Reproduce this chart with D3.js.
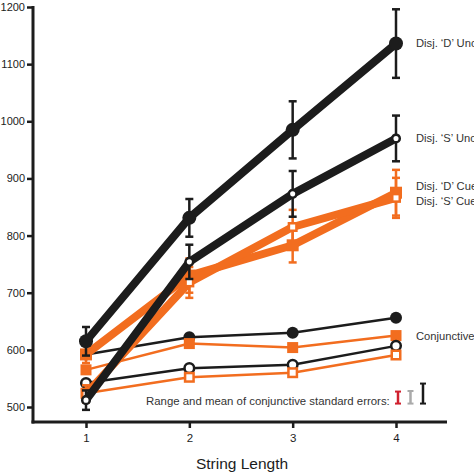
<!DOCTYPE html>
<html><head><meta charset="utf-8">
<script src="https://cdn.jsdelivr.net/npm/d3@7"></script>
<style>body{margin:0;background:#fff}svg{display:block}text{font-family:"Liberation Sans",Arial,sans-serif}</style>
</head><body>
<svg id="c" width="474" height="474"></svg>
<script>
const stringLengths = [1, 2, 3, 4];
const yTicks = [500, 600, 700, 800, 900, 1000, 1100, 1200];

const disjDUncued = [615, 831, 985, 1136];
const disjDUncuedErr = [25, 33, 50, 60];
const disjSUncued = [512, 754, 873, 970];
const disjSUncuedErr = [17, 30, 40, 40];
const disjDCued = [592, 730, 783, 875];
const disjDCuedErr = [15, 30, 30, 40];
const disjSCued = [523, 718, 815, 866];
const disjSCuedErr = [15, 27, 30, 35];

const conjDUncued = [592, 622, 630, 656];
const conjDCued = [565, 611, 604, 625];
const conjSUncued = [542, 568, 574, 607];
const conjSCued = [524, 552, 560, 591];

const seLegend = [
  {color: "#d0202e", lo: 506, hi: 527},
  {color: "#aaaaaa", lo: 506, hi: 528},
  {color: "#1a1a1a", lo: 506, hi: 541}
];

const BLACK = "#1c1c1c", ORANGE = "#f26d1f";

const svg = d3.select("#c");
const x = d3.scaleLinear().domain([1, 4]).range([86, 396]);
const y = d3.scaleLinear().domain([500, 1200]).range([407, 7]);
const xAxisY = 422, yAxisX = 33;

// axes
const ya = svg.append("g").attr("transform", `translate(${yAxisX},0)`)
  .call(d3.axisLeft(y).tickValues(yTicks).tickFormat(d3.format("d")).tickSize(6).tickPadding(2));
ya.select(".domain").remove();
ya.selectAll(".tick line").attr("stroke", BLACK).attr("stroke-width", 2.5);
ya.selectAll(".tick text").attr("font-size", 11).attr("fill", BLACK);
svg.append("line").attr("x1", yAxisX).attr("x2", yAxisX).attr("y1", y(1200) - 1).attr("y2", xAxisY + 1.5)
  .attr("stroke", BLACK).attr("stroke-width", 3);

const xa = svg.append("g").attr("transform", `translate(0,${xAxisY})`)
  .call(d3.axisBottom(x).tickValues(stringLengths).tickFormat(d3.format("d")).tickSize(6).tickPadding(6));
xa.select(".domain").remove();
xa.selectAll(".tick line").attr("stroke", BLACK).attr("stroke-width", 2.5);
xa.selectAll(".tick text").attr("font-size", 11.5).attr("fill", BLACK);
svg.append("line").attr("x1", yAxisX - 1.5).attr("x2", 447).attr("y1", xAxisY).attr("y2", xAxisY)
  .attr("stroke", BLACK).attr("stroke-width", 3);

svg.append("text").attr("x", 242).attr("y", 469).attr("text-anchor", "middle")
  .attr("font-size", 15.5).attr("fill", BLACK).text("String Length");

const line = d3.line().x((d, i) => x(stringLengths[i])).y(d => y(d));

function errBars(vals, errs, color, w) {
  const g = svg.append("g");
  vals.forEach((v, i) => {
    const cx = x(stringLengths[i]);
    g.append("line").attr("x1", cx).attr("x2", cx).attr("y1", y(v + errs[i])).attr("y2", y(v - errs[i]))
      .attr("stroke", color).attr("stroke-width", w);
    [v + errs[i], v - errs[i]].forEach(e => {
      g.append("line").attr("x1", cx - 4).attr("x2", cx + 4).attr("y1", y(e)).attr("y2", y(e))
        .attr("stroke", color).attr("stroke-width", 2.5);
    });
  });
}

function series(vals, color, lw, marker, filled, size) {
  svg.append("path").datum(vals).attr("d", line).attr("fill", "none")
    .attr("stroke", color).attr("stroke-width", lw).attr("stroke-linejoin", "round");
  const g = svg.append("g");
  vals.forEach((v, i) => {
    const cx = x(stringLengths[i]), cy = y(v);
    if (marker === "circle") {
      g.append("circle").attr("cx", cx).attr("cy", cy).attr("r", filled ? size : size - 1.2)
        .attr("fill", filled ? color : "#fff").attr("stroke", color).attr("stroke-width", filled ? 0 : 2.5);
    } else {
      const s = filled ? size * 2 : size * 2 - 2.5;
      g.append("rect").attr("x", cx - s / 2).attr("y", cy - s / 2).attr("width", s).attr("height", s)
        .attr("fill", filled ? color : "#fff").attr("stroke", color).attr("stroke-width", filled ? 0 : 2.5);
    }
  });
}

// conjunctive (thin)
series(conjDUncued, BLACK, 2.5, "circle", true, 6);
series(conjDCued, ORANGE, 2.5, "square", true, 5.5);
series(conjSUncued, BLACK, 2.5, "circle", false, 6);
series(conjSCued, ORANGE, 2.5, "square", false, 5.5);

// disjunctive cued (orange thick)
errBars(disjDCued, disjDCuedErr, ORANGE, 2.5);
errBars(disjSCued, disjSCuedErr, ORANGE, 2.5);
series(disjDCued, ORANGE, 8, "square", true, 6);
series(disjSCued, ORANGE, 8, "square", false, 5);

// disjunctive uncued (black thick)
errBars(disjDUncued, disjDUncuedErr, BLACK, 2.5);
errBars(disjSUncued, disjSUncuedErr, BLACK, 2.5);
series(disjDUncued, BLACK, 8, "circle", true, 7);
series(disjSUncued, BLACK, 8, "circle", false, 5);

// right labels
const labels = [
  {t: "Disj. \u2018D\u2019 Uncued", v: disjDUncued[3]},
  {t: "Disj. \u2018S\u2019 Uncued", v: disjSUncued[3]},
  {t: "Disj. \u2018D\u2019 Cued", v: 887},
  {t: "Disj. \u2018S\u2019 Cued", v: 861},
  {t: "Conjunctive", v: 624}
];
labels.forEach(l => {
  svg.append("text").attr("x", 416).attr("y", y(l.v)).attr("dy", "0.35em")
    .attr("font-size", 11.2).attr("fill", "#333").text(l.t);
});

svg.append("text").attr("x", 146).attr("y", 405).attr("font-size", 11.4).attr("fill", "#333")
  .text("Range and mean of conjunctive standard errors:");
seLegend.forEach((s, i) => {
  const cx = 398 + i * 12.5;
  svg.append("line").attr("x1", cx).attr("x2", cx).attr("y1", y(s.hi)).attr("y2", y(s.lo))
    .attr("stroke", s.color).attr("stroke-width", 2.5);
  [s.hi, s.lo].forEach(e => svg.append("line").attr("x1", cx - 3).attr("x2", cx + 3)
    .attr("y1", y(e)).attr("y2", y(e)).attr("stroke", s.color).attr("stroke-width", 2));
});
</script>
</body></html>
